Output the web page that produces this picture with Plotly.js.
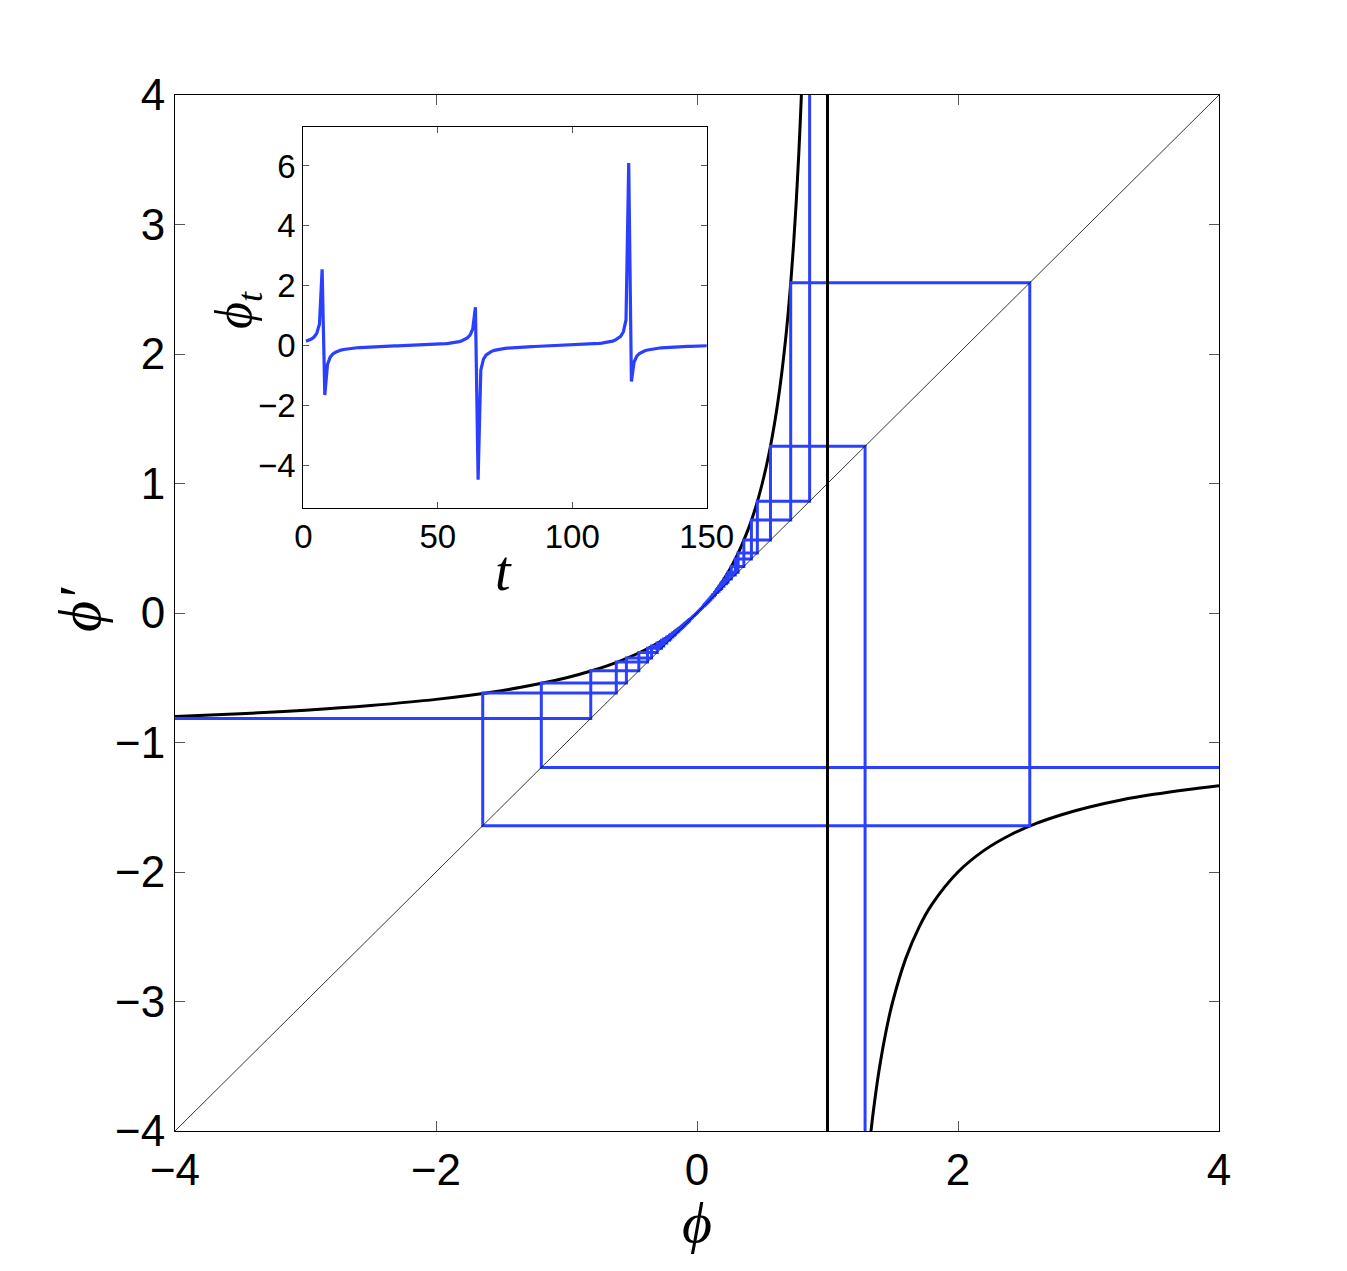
<!DOCTYPE html>
<html>
<head>
<meta charset="utf-8">
<script src="https://cdn.plot.ly/plotly-3.0.1.min.js"></script>
<style>html,body{margin:0;padding:0;background:#fff;}</style>
</head>
<body>
<div id="chart" style="width:1347px;height:1271px;"></div>
<script>
// ---- data ----
// map curve phi' vs phi, left branch
const curveLeftX = [-4, -3.5, -3, -2.5, -2, -1.5, -1.2, -1, -0.8, -0.6, -0.4, -0.2, 0, 0.1, 0.2, 0.3, 0.4, 0.45, 0.5, 0.55, 0.6, 0.64, 0.68, 0.7, 0.72, 0.74, 0.76, 0.78, 0.8, 0.81];
const curveLeftY = [-0.8, -0.778, -0.75, -0.714, -0.667, -0.6, -0.545, -0.5, -0.444, -0.375, -0.286, -0.167, 0, 0.111, 0.25, 0.429, 0.667, 0.818, 1.0, 1.222, 1.5, 1.778, 2.125, 2.333, 2.571, 2.846, 3.167, 3.545, 4.0, 4.263];
// right branch
const curveRightX = [1.32, 1.35, 1.4, 1.45, 1.5, 1.6, 1.7, 1.8, 2.0, 2.2, 2.4, 2.6, 2.8, 3.0, 3.25, 3.5, 3.75, 4.0];
const curveRightY = [-4.125, -3.857, -3.5, -3.222, -3.0, -2.667, -2.429, -2.25, -2.0, -1.833, -1.714, -1.625, -1.556, -1.5, -1.444, -1.4, -1.364, -1.333];
// vertical asymptote and identity line
const asymptoteX = [1, 1];
const asymptoteY = [-4, 4];
const diagonal = [-4, 4];
// orbit phi_t, t = 1..150
const orbit = [
 0.151, 0.181, 0.225, 0.293, 0.417, 0.718, 2.55, -1.642, -0.6185, -0.3791,
 -0.2719, -0.2108, -0.1711, -0.1431, -0.1222, -0.1059, -0.0928, -0.0819, -0.0727, -0.0648,
 -0.0578, -0.0517, -0.0461, -0.0411, -0.0365, -0.0322, -0.0282, -0.0244, -0.0208, -0.0174,
 -0.0141, -0.0109, -0.0078, -0.0047, -0.0017, 0.0013, 0.0042, 0.0071, 0.0102, 0.0133,
 0.0165, 0.0198, 0.0232, 0.0268, 0.0305, 0.0345, 0.0387, 0.0433, 0.0483, 0.0537,
 0.0597, 0.0665, 0.0742, 0.0832, 0.0937, 0.1064, 0.1221, 0.1421, 0.1687, 0.2060,
 0.2625, 0.3590, 0.563, 1.288, -4.47, -0.8142, -0.4458, -0.3053, -0.2309, -0.1846,
 -0.1528, -0.1295, -0.1117, -0.0975, -0.0858, -0.0761, -0.0677, -0.0604, -0.0539, -0.0482,
 -0.0430, -0.0382, -0.0338, -0.0297, -0.0258, -0.0222, -0.0187, -0.0154, -0.0121, -0.0090,
 -0.0059, -0.0018, 0.0022, 0.0056, 0.0088, 0.0120, 0.0153, 0.0185, 0.0219, 0.0254,
 0.0291, 0.0330, 0.0371, 0.0415, 0.0463, 0.0515, 0.0573, 0.0638, 0.0711, 0.0796,
 0.0895, 0.1013, 0.1157, 0.1339, 0.1576, 0.1901, 0.2377, 0.3148, 0.4624, 0.863,
 6.1, -1.193, -0.541, -0.3481, -0.2552, -0.2003, -0.1639, -0.1378, -0.1181, -0.1026,
 -0.0901, -0.0797, -0.0708, -0.0631, -0.0564, -0.0504, -0.0450, -0.0401, -0.0356, -0.0314,
 -0.0274, -0.0237, -0.0202, -0.0168, -0.0135, -0.0103, -0.0072, -0.0041, -0.0011, 0.0019
];
const mainTicksX = [-4, -2, 0, 2, 4];
const mainTicksY = [-4, -3, -2, -1, 0, 1, 2, 3, 4];
const insetTicksX = [0, 50, 100, 150];
const insetTicksY = [-4, -2, 0, 2, 4, 6];

// ---- build cobweb path from orbit ----
const tVals = orbit.map((_, i) => i + 1);
const cobX = [orbit[0]], cobY = [orbit[0]];
for (let i = 0; i < orbit.length - 1; i++) {
  cobX.push(orbit[i]);     cobY.push(orbit[i + 1]);
  cobX.push(orbit[i + 1]); cobY.push(orbit[i + 1]);
}

const BLUE = '#2b40ff';
const traces = [
  {x: curveLeftX, y: curveLeftY, mode: 'lines', line: {color: '#000', width: 3, shape: 'spline'}, xaxis: 'x', yaxis: 'y', hoverinfo: 'skip'},
  {x: curveRightX, y: curveRightY, mode: 'lines', line: {color: '#000', width: 3, shape: 'spline'}, xaxis: 'x', yaxis: 'y', hoverinfo: 'skip'},
  {x: cobX, y: cobY, mode: 'lines', line: {color: BLUE, width: 3}, xaxis: 'x', yaxis: 'y', hoverinfo: 'skip'},
  {x: diagonal, y: diagonal, mode: 'lines', line: {color: '#000', width: 0.8}, xaxis: 'x', yaxis: 'y', hoverinfo: 'skip'},
  {x: asymptoteX, y: asymptoteY, mode: 'lines', line: {color: '#000', width: 3}, xaxis: 'x', yaxis: 'y', hoverinfo: 'skip'},
  {x: tVals, y: orbit, mode: 'lines', line: {color: BLUE, width: 3.2}, xaxis: 'x2', yaxis: 'y2', hoverinfo: 'skip'}
];

const tickFont = {family: 'Liberation Sans, Arial, sans-serif', size: 44, color: '#000'};
const insetFont = {family: 'Liberation Sans, Arial, sans-serif', size: 33, color: '#000'};
const mathFont = (s) => ({family: 'Liberation Serif, DejaVu Serif, serif', size: s, color: '#000', style: 'italic'});

const axBase = {showgrid: false, zeroline: false, showline: true, linecolor: '#000', linewidth: 1,
  mirror: 'ticks', ticks: 'inside', tickcolor: '#555', tickwidth: 1, tickmode: 'array'};

const L = 175, T = 95, W = 1044, H = 1036;
const px = (x) => (x - L) / W;
const py = (y) => (T + H - y) / H;

const layout = {
  width: 1347, height: 1271,
  margin: {l: L, r: 1347 - L - W, t: T, b: 1271 - T - H},
  paper_bgcolor: '#fff', plot_bgcolor: '#fff',
  showlegend: false,
  xaxis: Object.assign({}, axBase, {domain: [0, 1], anchor: 'y', range: [-4, 4], tickvals: mainTicksX, ticklen: 10, tickfont: tickFont}),
  yaxis: Object.assign({}, axBase, {domain: [0, 1], anchor: 'x', range: [-4, 4], tickvals: mainTicksY, ticklen: 10, tickfont: tickFont}),
  xaxis2: Object.assign({}, axBase, {domain: [px(303.3), px(706.7)], anchor: 'y2', range: [0, 150], tickvals: insetTicksX, ticklen: 6, tickfont: insetFont}),
  yaxis2: Object.assign({}, axBase, {domain: [py(507.7), py(127)], anchor: 'x2', range: [-5.4, 7.3], tickvals: insetTicksY, ticklen: 6, tickfont: insetFont}),
  shapes: [
    {type: 'rect', xref: 'paper', yref: 'paper', x0: px(303.3), x1: px(706.7), y0: py(507.7), y1: py(127),
     fillcolor: '#fff', line: {width: 0}, layer: 'below'}
  ],
  annotations: [
    {text: 'ϕ', xref: 'paper', yref: 'paper', x: px(697), y: py(1222), xanchor: 'center', yanchor: 'middle', showarrow: false, font: mathFont(58)},
    {text: 'ϕ′', xref: 'paper', yref: 'paper', x: px(80), y: py(610), xanchor: 'center', yanchor: 'middle', showarrow: false, textangle: -90, font: mathFont(60)},
    {text: 't', xref: 'paper', yref: 'paper', x: px(503), y: py(571), xanchor: 'center', yanchor: 'middle', showarrow: false, font: mathFont(56)},
    {text: 'ϕ<sub>t</sub>', xref: 'paper', yref: 'paper', x: px(237), y: py(310), xanchor: 'center', yanchor: 'middle', showarrow: false, textangle: -90, font: mathFont(52)}
  ]
};

Plotly.newPlot('chart', traces, layout, {displayModeBar: false, staticPlot: true});
</script>
</body>
</html>
